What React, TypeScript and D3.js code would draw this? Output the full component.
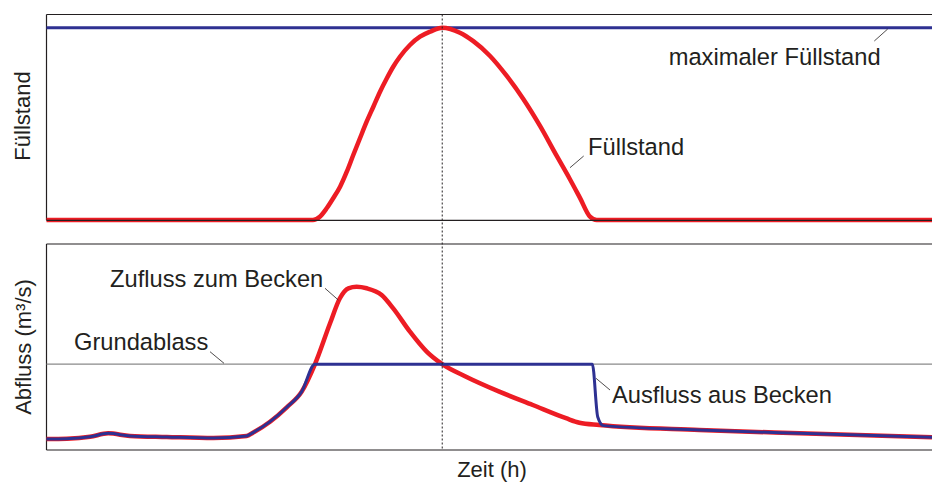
import React from "react";
import * as d3 from "d3";

// time axis (h) and series values
const levelTime = [0, 13.54, 13.89, 14.24, 14.57, 14.92, 15.26, 15.59, 15.93, 16.27, 16.61, 16.95, 17.29, 17.62, 17.96, 18.47, 18.98, 19.49, 20.11, 21.01, 21.69, 22.54, 23.39, 24.23, 25.08, 25.93, 26.6, 27.11, 27.62, 27.96, 45];
const levelValue = [0, 0, 1.7, 6.1, 11.3, 17.3, 25.1, 33.8, 42.5, 51.1, 58.9, 66.7, 73.6, 79.7, 84.9, 91.0, 95.3, 97.9, 100, 97.4, 93.0, 85.3, 74.9, 62.9, 48.9, 33.3, 21.2, 11.5, 1.7, 0, 0];
const maxLevel = 100;

const inflowTime = [0, 1.03, 2.21, 3.14, 4.24, 6.11, 8.48, 10.17, 10.49, 11.36, 12.21, 12.97, 13.64, 14.41, 14.91, 15.34, 15.76, 16.27, 17.03, 17.62, 18.47, 19.32, 20.11, 21.32, 23.01, 24.71, 26.4, 27.08, 28.09, 33.17, 38.26, 45];
const inflowValue = [0.64, 0.66, 0.77, 0.97, 0.82, 0.76, 0.7, 0.82, 1.01, 1.65, 2.49, 3.4, 4.99, 7.38, 8.84, 9.42, 9.51, 9.42, 9.03, 8.25, 6.89, 5.73, 5.0, 4.27, 3.4, 2.62, 1.85, 1.59, 1.46, 1.17, 0.97, 0.74];

const outflowTime = [0, 1.03, 2.21, 3.14, 4.24, 6.11, 8.48, 10.17, 10.49, 11.36, 12.21, 12.97, 13.64, 27.74, 28.01, 28.3, 33.17, 38.26, 45];
const outflowValue = [0.64, 0.66, 0.77, 0.97, 0.82, 0.76, 0.7, 0.82, 1.01, 1.65, 2.49, 3.4, 5.0, 5.0, 1.94, 1.42, 1.17, 0.97, 0.74];

const baseOutlet = 5; // Grundablass
const peakTime = 20.11;

const RED = "#ED1C24";
const BLUE = "#2E3192";
const INK = "#231F20";
const FONT = "'Liberation Sans', Arial, Helvetica, sans-serif";

export default function App() {
  const W = 932, H = 482;
  const left = 46.5, right = 932;
  const top1 = 14.5, bot1 = 220.3;
  const top2 = 244, bot2 = 450;

  const x = d3.scaleLinear().domain([0, 45]).range([left, right]);
  const yLevel = d3.scaleLinear().domain([0, 100]).range([220, 27.7]);
  const yQ = d3.scaleLinear().domain([0, 12]).range([bot2, top2]);

  const levelData = levelTime.map((t, i) => [t, levelValue[i]] as [number, number]);
  const inflowData = inflowTime.map((t, i) => [t, inflowValue[i]] as [number, number]);
  const outflowData = outflowTime.map((t, i) => [t, outflowValue[i]] as [number, number]);

  const levelLine = d3.line<[number, number]>().x(d => x(d[0])).y(d => yLevel(d[1])).curve(d3.curveMonotoneX);
  const qLine = d3.line<[number, number]>().x(d => x(d[0])).y(d => yQ(d[1])).curve(d3.curveMonotoneX);

  const xp = x(peakTime);
  const axisTxt = { fontFamily: FONT, fontSize: 22, fill: INK } as React.CSSProperties;
  const txt = { fontFamily: FONT, fontSize: 23.7, fill: INK } as React.CSSProperties;

  return (
    <svg width={W} height={H} style={{ position: "absolute", left: 0, top: 0, background: "#fff" }}>
      {/* frames */}
      <g stroke={INK} strokeWidth={1.2} fill="none">
        <line x1={left} x2={right} y1={top1} y2={top1} />
        <line x1={left} x2={left} y1={top1} y2={bot1} />
        <line x1={left} x2={right} y1={top2} y2={top2} />
        <line x1={left} x2={left} y1={top2} y2={bot2} />
      </g>
      {/* Grundablass */}
      <line x1={left} x2={right} y1={yQ(baseOutlet)} y2={yQ(baseOutlet)} stroke="#8a8a8a" strokeWidth={1.2} />
      {/* max level */}
      <line x1={left} x2={right} y1={yLevel(maxLevel)} y2={yLevel(maxLevel)} stroke={BLUE} strokeWidth={3} />
      {/* level */}
      <path d={levelLine(levelData) || ""} fill="none" stroke={RED} strokeWidth={4.5} strokeLinejoin="round" />
      <line x1={left} x2={right} y1={bot1} y2={bot1} stroke={INK} strokeWidth={1.2} />
      {/* inflow / outflow */}
      <path d={qLine(inflowData) || ""} fill="none" stroke={RED} strokeWidth={4.5} strokeLinejoin="round" />
      <path d={qLine(outflowData) || ""} fill="none" stroke={BLUE} strokeWidth={3} strokeLinejoin="round" />
      <line x1={left} x2={right} y1={bot2} y2={bot2} stroke={INK} strokeWidth={1.2} />
      {/* dotted time marker */}
      <line x1={xp} x2={xp} y1={top1} y2={bot2} stroke={INK} strokeWidth={1} strokeDasharray="2,2" />

      {/* leader lines */}
      <g stroke={INK} strokeWidth={0.8}>
        <line x1={874.3} y1={41} x2={887.7} y2={29} />
        <line x1={570} y1={167.7} x2={583.7} y2={156} />
        <line x1={325} y1={288.3} x2={338.3} y2={300} />
        <line x1={210} y1={351.7} x2={224} y2={363.3} />
        <line x1={596} y1={378.3} x2={610} y2={390} />
      </g>

      {/* texts */}
      <text x={668.7} y={65} style={txt}>maximaler Füllstand</text>
      <text x={588} y={155} style={txt}>Füllstand</text>
      <text x={110} y={287} style={txt}>Zufluss zum Becken</text>
      <text x={74} y={350} style={txt}>Grundablass</text>
      <text x={612} y={403} style={txt}>Ausfluss aus Becken</text>
      <text x={492} y={477} textAnchor="middle" style={axisTxt}>Zeit (h)</text>
      <text transform="translate(30,116) rotate(-90)" textAnchor="middle" style={axisTxt}>Füllstand</text>
      <text transform="translate(30.5,347) rotate(-90)" textAnchor="middle" style={axisTxt}>Abfluss (m³/s)</text>
    </svg>
  );
}
